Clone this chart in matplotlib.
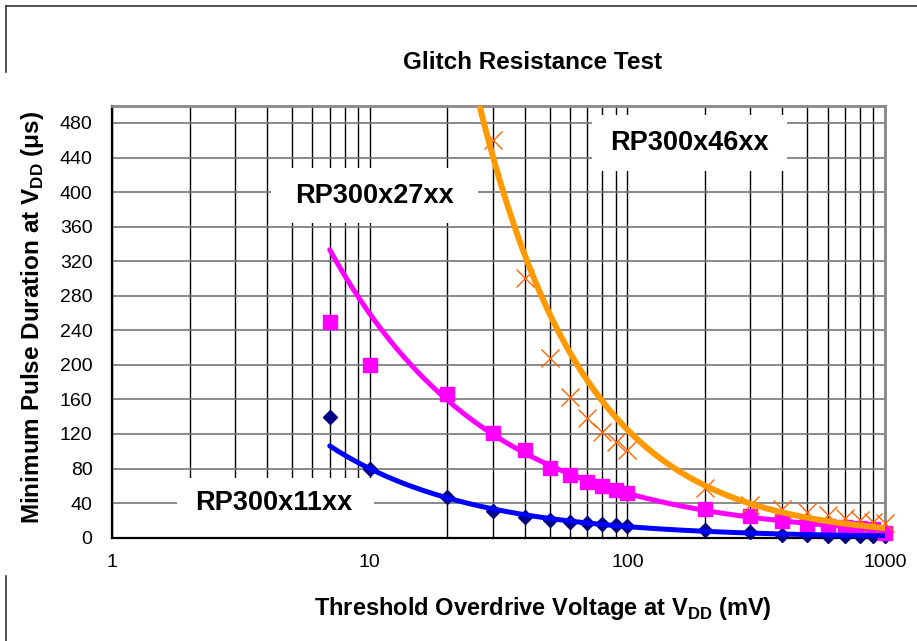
import numpy as np
import matplotlib
matplotlib.use('Agg')
from matplotlib import pyplot as plt
from matplotlib.patches import Rectangle
from matplotlib.lines import Line2D
from matplotlib.ticker import FixedLocator, NullFormatter

plt.rcParams['font.family'] = ['Liberation Sans', 'DejaVu Sans']
plt.rcParams['mathtext.fontset'] = 'custom'
plt.rcParams['mathtext.rm'] = 'Liberation Sans'
plt.rcParams['mathtext.bf'] = 'Liberation Sans:bold'

# threshold overdrive voltage (mV)
x_vals = [7, 10, 20, 30, 40, 50, 60, 70, 80, 90, 100,
          200, 300, 400, 500, 600, 700, 800, 900, 1000]
x_46 = [30, 40, 50, 60, 70, 80, 90, 100,
        200, 300, 400, 500, 600, 700, 800, 900, 1000]

# minimum pulse duration (us)
rp11 = [140, 80, 47, 31, 24, 20, 18, 17, 16, 15, 13, 9, 7, 3, 3, 2, 2, 2, 2, 2]
rp27 = [250, 200, 166, 121, 101, 81, 72, 65, 60, 55, 52, 33, 25, 19, 16, 14, 12, 11, 10, 5]
rp46 = [460, 300, 208, 163, 139, 122, 111, 101, 57, 38, 33, 30, 26, 23, 21, 18, 17]

# power trendlines y = a * x^b as shown on the chart
trend11 = (500, -0.796)
trend27 = (1309, -0.703)
trend46 = (15736, -1.05)

labels = ['RP300x11xx', 'RP300x27xx', 'RP300x46xx']
y_ticks = list(range(0, 481, 40))


def trend_line(coef, x_from, x_to):
    a, b = coef
    xs = np.logspace(np.log10(x_from), np.log10(x_to), 200)
    return xs, a * xs ** b


fig = plt.figure(figsize=(9.17, 6.41), dpi=100)
ax = fig.add_axes([0.1221, 0.1612, 0.8430, 0.6739])

ax.set_xscale('log')
ax.set_xlim(1, 1000)
ax.set_ylim(0, 500)

# data points
ax.plot(x_vals, rp11, 'D', color='#000080', markersize=7, zorder=4, clip_on=False)
ax.plot(x_vals, rp27, 's', color='#FF00FF', markersize=10, zorder=4, clip_on=False)
ax.plot(x_46, rp46, 'x', color='#FF6600', markersize=13, markeredgewidth=1.0, zorder=4,
        clip_on=False)

# trendlines
xs, ys = trend_line(trend11, 7, 1000)
ax.plot(xs, ys, color='#0000FF', lw=3.6, solid_capstyle='round', zorder=5)
xs, ys = trend_line(trend27, 7, 1000)
ax.plot(xs, ys, color='#FF00FF', lw=3.6, solid_capstyle='round', zorder=5)
xs, ys = trend_line(trend46, 20, 1000)
ax.plot(xs, ys, color='#FF9900', lw=4.3, solid_capstyle='round', zorder=5)

# grid
ax.set_axisbelow(True)
ax.set_yticks(y_ticks)
ax.xaxis.set_minor_locator(FixedLocator([m * 10 ** d for d in range(3) for m in range(2, 10)]))
ax.xaxis.set_minor_formatter(NullFormatter())
ax.grid(True, axis='x', which='both', color='black', lw=1.0)
ax.grid(True, axis='y', which='major', color='#777777', lw=1.2)

ax.tick_params(axis='y', length=0, pad=14, labelsize=14)
ax.tick_params(axis='x', which='major', length=0, pad=12, labelsize=14)
ax.tick_params(axis='x', which='minor', direction='in', length=3)
ax.set_xticks([1, 10, 100, 1000])
ax.set_xticklabels(['1', '10', '100', '1000'])

for s in ['left', 'bottom']:
    ax.spines[s].set_color('black')
    ax.spines[s].set_linewidth(1.6)
for s in ['top', 'right']:
    ax.spines[s].set_color('#888888')
    ax.spines[s].set_linewidth(2.0)

# series name boxes
boxes = [(0.084, 0.0, 0.255, 0.138, 0.209, 0.080),
         (0.206, 0.728, 0.267, 0.127, 0.339, 0.792),
         (0.621, 0.849, 0.252, 0.129, 0.747, 0.914)]
for (bx, by, bw, bh, tx, ty), name in zip(boxes, labels):
    ax.add_patch(Rectangle((bx, by), bw, bh, transform=ax.transAxes,
                           facecolor='white', edgecolor='none', zorder=2))
    ax.text(tx, ty, name, transform=ax.transAxes, ha='center', va='center',
            fontsize=19.5, fontweight='bold', zorder=3)

fig.text(0.581, 0.903, 'Glitch Resistance Test', ha='center', va='center',
         fontsize=17.5, fontweight='bold')
fig.text(0.5916, 0.050, r'Threshold Overdrive Voltage at V$_\mathbf{DD}$ (mV)',
         ha='center', va='center', fontsize=17, fontweight='bold')
fig.text(0.035, 0.505, r'Minimum Pulse Duration at V$_\mathbf{DD}$ ($\mathbf{\mu}$s)',
         ha='center', va='center', rotation=90, fontsize=17.5, fontweight='bold')

# outer chart frame
fig.add_artist(Line2D([0.006, 1.0], [0.991, 0.991], color='#333333', lw=1.2))
fig.add_artist(Line2D([0.007, 0.007], [0.991, 0.887], color='#333333', lw=1.2))
fig.add_artist(Line2D([0.007, 0.007], [0.101, 0.0], color='#333333', lw=1.2))

fig.savefig('out.png', dpi=100)
